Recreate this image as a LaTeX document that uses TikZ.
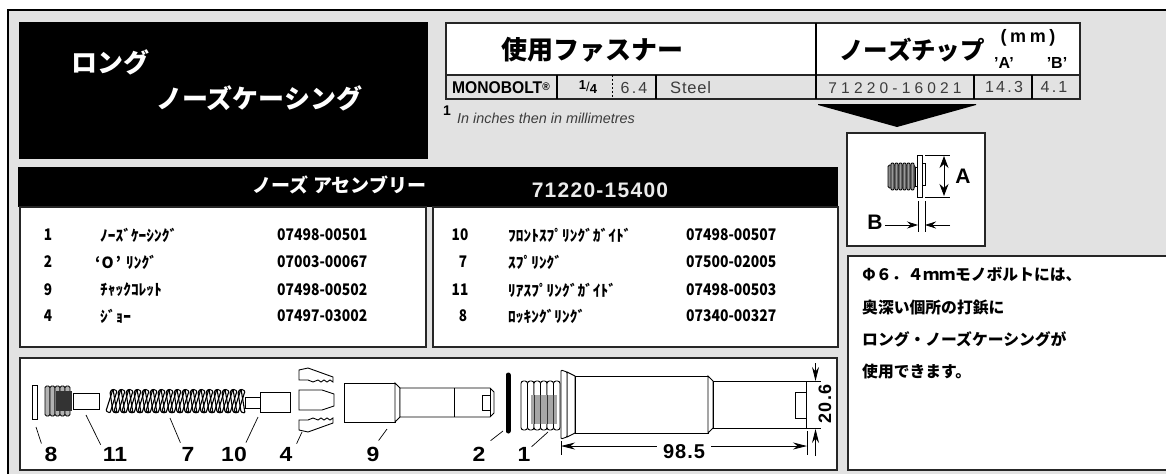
\documentclass[tikz,border=0pt]{standalone}
\usepackage{xcolor}
\usepackage{fontspec}
\setmainfont{Liberation Sans}
\newfontfamily\jpfont{Noto Sans CJK JP}
\usetikzlibrary{positioning,arrows.meta}
\definecolor{panelgray}{HTML}{E2E2E2}
\definecolor{inkgray}{HTML}{3C3C3C}
\newcommand{\fsz}[1]{\fontsize{#1}{#1}\selectfont}
\newcommand{\spaced}[1]{\addfontfeatures{LetterSpace=#1}}
\newcommand{\narrowed}[1]{\addfontfeatures{FakeStretch=#1}}
\tikzset{
  box/.style={draw=black!85,line width=1.6pt,fill=white},
  part/.style={draw=black,line width=0.9pt,fill=white},
  leader/.style={draw=black,line width=0.7pt},
  dimline/.style={draw=black,line width=0.8pt},
  dimarrow/.style={draw=black,line width=0.8pt,-{Stealth[length=14pt,width=7pt]}},
  txt/.style={inner sep=0pt,anchor=west},
  rownum/.style={inner sep=0pt,font=\jpfont\bfseries\fsz{16}\narrowed{0.85}},
  rowname/.style={txt,font=\jpfont\bfseries\fsz{15.4}},
  rowcode/.style={txt,font=\jpfont\bfseries\fsz{16}\narrowed{0.87}},
  cellnum/.style={inner sep=0pt,text=inkgray,font=\fsz{16}\spaced{14}},
  callout/.style={inner sep=0pt,font=\bfseries\fsz{20.5}\narrowed{1.12}},
  notetxt/.style={txt,font=\jpfont\bfseries\fsz{15.8}}
}
\begin{document}
\begin{tikzpicture}[x=1pt,y=-1pt]
\useasboundingbox (0,0) rectangle (1166,474);
% Sheet
\fill[white] (0,0) rectangle (1166,474);
\fill[panelgray] (8,10) rectangle (1166,474);
\draw[black,line width=2pt] (8,474) -- (8,10) -- (1166,10);

% Title block
\fill[black] (19,22) rectangle (428,159);
\node[txt,text=white,font=\jpfont\bfseries\fsz{26}] (titleA) at (71,62) {ロング};
\node[txt,text=white,font=\jpfont\bfseries\fsz{26}] (titleB) at (156,98) {ノーズケーシング};

% Fastener and nose tip table
\draw[box] (446,23) rectangle (1080,75);
\draw[box,fill=panelgray] (446,75) rectangle (1080,99);
\draw[black,line width=1.6pt] (816,23) -- (816,99);
\draw[black,line width=1.6pt] (557,75) -- (557,99);
\draw[black,line width=1pt,dash pattern=on 2pt off 2pt] (612,75) -- (612,99);
\draw[black,line width=1.6pt] (656,75) -- (656,99);
\draw[black,line width=1.6pt] (974,75) -- (974,99);
\draw[black,line width=1.6pt] (1032,75) -- (1032,99);
\node[txt,font=\jpfont\bfseries\fsz{26}] (headFast) at (501,50) {使用ファスナー};
\node[txt,font=\jpfont\bfseries\fsz{24.5}] (headTip) at (839,50) {ノーズチップ};
\node[inner sep=0pt,font=\bfseries\fsz{18}\spaced{20}] (headMm) at (1028,38) {(mm)};
\node[inner sep=0pt,font=\bfseries\fsz{16}] (headA) at (1004,63) {'A'};
\node[inner sep=0pt,font=\bfseries\fsz{16}] (headB) at (1057,63) {'B'};
\node[txt,font=\bfseries\fsz{17}\narrowed{0.92}] (cellBolt) at (452,88) {MONOBOLT{\fsz{11}\raisebox{3pt}{®}}};
\node[inner sep=0pt,font=\bfseries\fsz{13}] (cellInch) at (588,87) {\raisebox{2.5pt}{1}{\mdseries/}\raisebox{-2pt}{4}};
\node[cellnum] (cellMm) at (634,88) {6.4};
\node[txt,text=inkgray,font=\fsz{16.5}\spaced{5}] (cellMat) at (670,88) {Steel};
\node[cellnum,font=\fsz{15.5}\spaced{27}] (cellTip) at (895,88) {71220-16021};
\node[cellnum] (cellA) at (1004,87) {14.3};
\node[cellnum] (cellB) at (1054,87) {4.1};
\node[inner sep=0pt,font=\bfseries\fsz{14}] (noteOne) at (447,111) {1};
\node[txt,text=inkgray,font=\itshape\fsz{14.4}] (noteInch) at (457,118) {In inches then in millimetres};

% Big arrow and nose tip sketch
\fill[black] (818,104) -- (976,104) -- (976,105) -- (897,127) -- (818,105) -- cycle;
\draw[box] (847,133) rectangle (985,246);
\draw[part,fill=black!45,rounded corners=1.5pt] (888,165) rectangle (915,188);
\foreach \x in {891,895,...,911}
  \draw[black,line width=0.8pt,rounded corners=1pt,fill=black!40] (\x,163) rectangle (\x+3,190);
\draw[part] (915,167) rectangle (917,186);
\draw[part] (922,163) rectangle (925,185);
\draw[part] (917,155) rectangle (922,197);
\draw[dimline] (925,155) -- (950,155);
\draw[dimline] (925,197) -- (950,197);
\draw[dimline,{Stealth[length=12pt,width=9pt]}-{Stealth[length=12pt,width=9pt]}] (944,156) -- (944,196);
\node[inner sep=0pt,font=\bfseries\fsz{21}] (dimA) at (963,176) {A};
\draw[dimline] (918,201) -- (918,232);
\draw[dimline] (925,201) -- (925,232);
\node[inner sep=0pt,font=\bfseries\fsz{21}] (dimB) at (875,222) {B};
\coordinate (tipIn) at (950,225);
\coordinate (edgeL) at (918,225);
\coordinate (edgeR) at (925,225);
\draw[dimline,-{Stealth[length=11pt,width=7pt]}] (dimB.east) ++(2,3) -- (edgeL);
\draw[dimline,-{Stealth[length=11pt,width=7pt]}] (tipIn) -- (edgeR);

% Assembly band
\fill[black] (18,167) rectangle (838,207);
\node[txt,text=white,font=\jpfont\bfseries\fsz{19}] (bandName) at (252,185) {ノーズ\hspace{5pt}アセンブリー};
\node[text=black!8,inner sep=0pt,font=\bfseries\fsz{21}\spaced{6}] (bandCode) at (600,190) {71220-15400};

% Parts lists
\draw[box] (20,207) rectangle (426,347);
\draw[box] (433,207) rectangle (838,347);

\node[rownum] (numA) at (48,235) {1};
\node[rownum] (numB) at (48,262) {2};
\node[rownum] (numC) at (48,290) {9};
\node[rownum] (numD) at (48,316) {4};
\node[rowname] (nameA) at (100,235) {ﾉｰｽﾞｹｰｼﾝｸﾞ};
\node[rowname] (nameB) at (95,262) {‘\hspace{1pt}O\hspace{2pt}’\hspace{5pt}ﾘﾝｸﾞ};
\node[rowname] (nameC) at (100,290) {ﾁｬｯｸｺﾚｯﾄ};
\node[rowname] (nameD) at (100,316) {ｼﾞｮｰ};
\node[rowcode] (codeA) at (277,235) {07498-00501};
\node[rowcode] (codeB) at (277,262) {07003-00067};
\node[rowcode] (codeC) at (277,290) {07498-00502};
\node[rowcode] (codeD) at (277,316) {07497-03002};

\node[rownum] (numE) at (460,235) {10};
\node[rownum] (numF) at (463,262) {7};
\node[rownum] (numG) at (460,290) {11};
\node[rownum] (numH) at (463,316) {8};
\node[rowname] (nameE) at (508,235) {ﾌﾛﾝﾄｽﾌﾟﾘﾝｸﾞｶﾞｲﾄﾞ};
\node[rowname] (nameF) at (508,262) {ｽﾌﾟﾘﾝｸﾞ};
\node[rowname] (nameG) at (508,290) {ﾘｱｽﾌﾟﾘﾝｸﾞｶﾞｲﾄﾞ};
\node[rowname] (nameH) at (508,316) {ﾛｯｷﾝｸﾞﾘﾝｸﾞ};
\node[rowcode] (codeE) at (686,235) {07498-00507};
\node[rowcode] (codeF) at (686,262) {07500-02005};
\node[rowcode] (codeG) at (686,290) {07498-00503};
\node[rowcode] (codeH) at (686,316) {07340-00327};

% Note panel
\draw[box] (848,256) rectangle (1170,470);
\node[notetxt] (noteA) at (862,274) {Φ６．４ｍｍモノボルトには、};
\node[notetxt] (noteB) at (862,308) {奥深い個所の打鋲に};
\node[notetxt] (noteC) at (862,339) {ロング・ノーズケーシングが};
\node[notetxt] (noteD) at (862,372) {使用できます。};

% Exploded view
\draw[box] (20,358) rectangle (837,470);

% Locking ring and rear guide
\draw[part] (32,385) rectangle (37,419);
\draw[part] (73,393) rectangle (99,409);
\foreach \x in {45,50,...,68}
  \draw[black,line width=0.9pt,rounded corners=1.5pt,fill=black!30] (\x,386) rectangle (\x+5,416);
\fill[black!80] (56,391) rectangle (72,411);

% Spring and front guide
\foreach \x in {106,114,...,234}
  \draw[black,line width=1.1pt,rounded corners=1pt] (\x+7,389) -- (\x+4,392) -- (\x+7,412) -- (\x+11,413) -- cycle;
\foreach \x in {106,114,...,234}
  \draw[black,line width=1.1pt,rounded corners=1pt] (\x,411) -- (\x+4,413) -- (\x+11,391) -- (\x+7,389) -- cycle;
\draw[part] (245,397) rectangle (260,408);
\draw[part] (260,392) rectangle (290,412);

% Jaws
\draw[part] (299,370) -- (308,368) -- (333,377) -- (333,382) -- (330,380) -- (327,382) -- (324,380) -- (321,382) -- (318,380) -- (313,382) -- (308,380) -- (299,380) -- cycle;
\draw[part] (299,390) -- (322,390) -- (334,394) -- (334,406) -- (322,410) -- (299,410) -- cycle;
\draw[part] (299,430) -- (308,432) -- (333,423) -- (333,418) -- (330,420) -- (327,418) -- (324,420) -- (321,418) -- (318,420) -- (313,418) -- (308,420) -- (299,420) -- cycle;

% Chuck collet
\draw[part] (344,383) rectangle (395,422);
\draw[part] (395,383) -- (400,388) -- (400,417) -- (395,422) -- cycle;
\draw[part] (400,388) -- (490,388) -- (494,392) -- (494,413) -- (490,417) -- (400,417) -- cycle;
\draw[part] (454,388) -- (454,417);
\draw[part] (490,395) -- (482,395) -- (482,410) -- (490,410);
\draw[part] (490,388) -- (490,417);

% O ring
\draw[black,line width=5pt,line cap=round] (508,375) -- (508,431);

% Nose casing
\foreach \x in {521,527.5,...,554}
  \draw[black,line width=0.9pt,rounded corners=2.5pt,fill=white] (\x,381) rectangle (\x+6.5,430);
\fill[black!35] (531,395) rectangle (557,424);
\foreach \x in {534,540.5,...,554}
  \draw[black!80,line width=0.9pt] (\x,395) -- (\x,424);
\draw[part] (567,372) -- (575,376) -- (575,433) -- (567,437) -- cycle;
\draw[part,rounded corners=1pt] (561,370) -- (567,372) -- (567,437) -- (561,439) -- cycle;
\draw[part] (575,376) rectangle (708,433);
\draw[part] (708,376) -- (713,381) -- (713,428) -- (708,433) -- cycle;
\draw[part] (713,381) rectangle (806,428);
\draw[part] (806,392) -- (795,392) -- (795,418) -- (806,418);

% Dimensions
\draw[dimline] (806,381) -- (821,381);
\draw[dimline] (806,428) -- (821,428);
\draw[dimline] (561,441) -- (561,455);
\draw[dimline] (807,431) -- (807,455);
\coordinate (dimTop) at (815.5,363);
\coordinate (dimBot) at (815.5,456);
\coordinate (shaftTop) at (815.5,381);
\coordinate (shaftBot) at (815.5,429);
\coordinate (lenL) at (561,446);
\coordinate (lenR) at (807,446);
\draw[dimarrow] (dimTop) -- (shaftTop);
\draw[dimarrow] (dimBot) -- (shaftBot);
\node[inner sep=0pt,rotate=90,font=\bfseries\fsz{18}\spaced{7}] (dimDia) at (825,404) {20.6};
\node[inner sep=0pt,font=\bfseries\fsz{20}\spaced{5}] (dimLen) at (684,452) {98.5};
\draw[dimarrow] (dimLen.west) ++(-6,-6) -- (lenL);
\draw[dimarrow] (dimLen.east) ++(6,-6) -- (lenR);

% Callouts
\node[callout] (callEight) at (51,454) {8};
\node[callout] (callEleven) at (115,454) {11};
\node[callout] (callSeven) at (188,454) {7};
\node[callout] (callTen) at (234,454) {10};
\node[callout] (callFour) at (286,454) {4};
\node[callout] (callNine) at (373,454) {9};
\node[callout] (callTwo) at (479,454) {2};
\node[callout] (callOne) at (524,454) {1};
\coordinate (ringEnd) at (36,427);
\coordinate (guideEnd) at (86,415);
\coordinate (springEnd) at (170,418);
\coordinate (frontEnd) at (258,417);
\coordinate (jawEnd) at (302,432);
\coordinate (colletEnd) at (387,429);
\coordinate (oringEnd) at (503,431);
\coordinate (caseEnd) at (548,432);
\draw[leader] (ringEnd) -- ([shift={(-3,-3)}]callEight.north west);
\draw[leader] (guideEnd) -- ([shift={(-2,-2)}]callEleven.north west);
\draw[leader] (springEnd) -- ([shift={(-1,-4)}]callSeven.north west);
\draw[leader] (frontEnd) -- ([shift={(-1,-4)}]callTen.north east);
\draw[leader] (jawEnd) -- ([shift={(4,-3)}]callFour.north east);
\draw[leader] (colletEnd) -- ([shift={(-1,-6)}]callNine.north east);
\draw[leader] (oringEnd) -- ([shift={(5,-6)}]callTwo.north east);
\draw[leader] (caseEnd) -- ([shift={(1,0)}]callOne.north east);
\end{tikzpicture}
\end{document}
